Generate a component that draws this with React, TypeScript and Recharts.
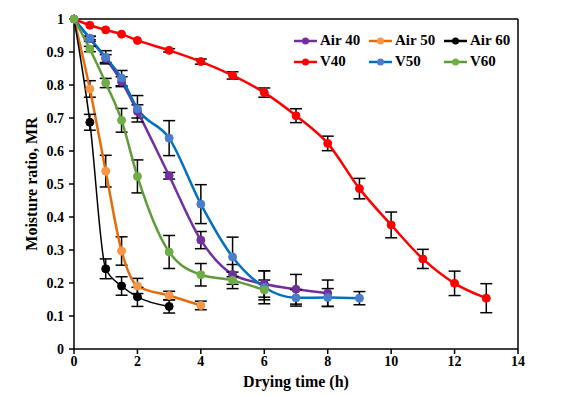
import { LineChart, Line, XAxis, YAxis, ErrorBar, ReferenceLine } from 'recharts';

// Drying curves: time (h), moisture ratio, error (+/-)
const air40Time = [0, 0.5, 1, 1.5, 2, 3, 4, 5, 6, 7, 8];
const air40MR = [1, 0.94, 0.88, 0.81, 0.72, 0.525, 0.33, 0.226, 0.197, 0.181, 0.169];
const air40Err = [null, 0.008, 0.012, 0.015, 0.02, 0.01, 0.026, 0.03, 0.04, 0.045, 0.04];

const air50Time = [0, 0.5, 1, 1.5, 2, 3, 4];
const air50MR = [1, 0.788, 0.539, 0.297, 0.191, 0.162, 0.132];
const air50Err = [null, 0.025, 0.048, 0.043, 0.023, 0.013, 0.013];

const air60Time = [0, 0.5, 1, 1.5, 2, 3];
const air60MR = [1, 0.687, 0.243, 0.191, 0.158, 0.129];
const air60Err = [null, 0.024, 0.03, 0.028, 0.029, 0.02];

const v40Time = [0, 0.5, 1, 1.5, 2, 3, 4, 5, 6, 7, 8, 9, 10, 11, 12, 13];
const v40MR = [1, 0.981, 0.967, 0.954, 0.935, 0.905, 0.871, 0.829, 0.777, 0.707, 0.623, 0.486, 0.376, 0.273, 0.199, 0.154];
const v40Err = [null, null, null, null, null, 0.005, 0.008, 0.011, 0.014, 0.021, 0.022, 0.031, 0.039, 0.029, 0.037, 0.044];

const v50Time = [0, 0.5, 1, 1.5, 2, 3, 4, 5, 6, 7, 8, 9];
const v50MR = [1, 0.942, 0.884, 0.821, 0.728, 0.639, 0.439, 0.279, 0.187, 0.155, 0.156, 0.154];
const v50Err = [null, 0.005, 0.02, 0.023, 0.04, 0.053, 0.059, 0.06, 0.05, 0.025, 0.027, 0.02];

const v60Time = [0, 0.5, 1, 1.5, 2, 3, 4, 5, 6];
const v60MR = [1, 0.909, 0.806, 0.693, 0.523, 0.294, 0.225, 0.208, 0.179];
const v60Err = [null, 0.008, 0.014, 0.036, 0.05, 0.05, 0.034, 0.025, 0.03];

const xTicks = [0, 2, 4, 6, 8, 10, 12, 14];
const yTicks = [0, 0.1, 0.2, 0.3, 0.4, 0.5, 0.6, 0.7, 0.8, 0.9, 1];

const toPoints = (time: number[], mr: number[], err: (number | null)[]) =>
  time.map((t, i) => ({ t, mr: mr[i], err: err[i] }));

const series = [
  { name: 'Air 40', data: toPoints(air40Time, air40MR, air40Err), line: '#7030A0', dot: '#7030A0', width: 2.5 },
  { name: 'Air 50', data: toPoints(air50Time, air50MR, air50Err), line: '#E46C0A', dot: '#F79646', width: 2.5 },
  { name: 'Air 60', data: toPoints(air60Time, air60MR, air60Err), line: '#000000', dot: '#000000', width: 1.5 },
  { name: 'V40', data: toPoints(v40Time, v40MR, v40Err), line: '#FF0000', dot: '#FF0000', width: 2.5 },
  { name: 'V50', data: toPoints(v50Time, v50MR, v50Err), line: '#0070C0', dot: '#4A7DCB', width: 2.5 },
  { name: 'V60', data: toPoints(v60Time, v60MR, v60Err), line: '#5E9C3A', dot: '#70AD47', width: 2.5 },
];

const font = '"Liberation Serif", "Times New Roman", serif';
const textStyle = { fontFamily: font, fontWeight: 'bold' as const, fill: '#000' };
const tickStyle = { fill: '#000', fontSize: 14, fontWeight: 'bold', fontFamily: font, style: textStyle };

function LegendBox() {
  return (
    <div
      style={{
        position: 'absolute',
        left: 294,
        top: 30,
        display: 'grid',
        gridTemplateColumns: '75px 75px 75px',
        gridAutoRows: '21px',
        fontFamily: font,
        fontWeight: 'bold',
        fontSize: 15,
        color: '#000',
      }}
    >
      {series.map(s => (
        <div key={s.name} style={{ display: 'flex', alignItems: 'center', whiteSpace: 'nowrap' }}>
          <svg width={24} height={10} style={{ marginRight: 2 }}>
            <line x1={0} y1={5} x2={23} y2={5} stroke={s.line} strokeWidth={2.5} />
            <circle cx={11.5} cy={5} r={3.5} fill={s.dot} />
          </svg>
          <span>{s.name}</span>
        </div>
      ))}
    </div>
  );
}

export default function App() {
  return (
    <div style={{ position: 'absolute', left: 0, top: 0, width: 564, height: 395, background: '#fff' }}>
      <LineChart width={564} height={395} margin={{ top: 19, right: 46, left: 0, bottom: 0 }}>
        <XAxis
          dataKey="t"
          type="number"
          domain={[0, 14]}
          ticks={xTicks}
          height={46}
          axisLine={{ stroke: '#000', strokeWidth: 1.5 }}
          tickLine={{ stroke: '#000', strokeWidth: 1.5 }}
          tickSize={5}
          tick={tickStyle}
          label={{
            value: 'Drying time (h)',
            position: 'insideBottom',
            offset: 8,
            style: { ...textStyle, fontSize: 16 },
          }}
        />
        <YAxis
          type="number"
          domain={[0, 1]}
          ticks={yTicks}
          width={74}
          axisLine={{ stroke: '#000', strokeWidth: 1.5 }}
          tickLine={{ stroke: '#000', strokeWidth: 1.5 }}
          tickSize={5}
          tickMargin={5}
          tick={tickStyle}
          tickFormatter={(v: number) => String(Number(v.toFixed(1)))}
          label={{
            value: 'Moisture ratio, MR',
            angle: -90,
            position: 'insideLeft',
            offset: 31,
            style: { ...textStyle, fontSize: 16, textAnchor: 'middle' },
          }}
        />
        <ReferenceLine y={1} stroke="#000" strokeWidth={1.5} />
        <ReferenceLine x={14} stroke="#000" strokeWidth={1.5} />
        {series.map(s => (
          <Line
            key={s.name}
            data={s.data}
            dataKey="mr"
            name={s.name}
            type="monotone"
            stroke={s.line}
            strokeWidth={s.width}
            dot={{ r: 4, fill: s.dot, stroke: s.dot, strokeWidth: 1 }}
            isAnimationActive={false}
          >
            <ErrorBar dataKey="err" direction="y" width={6} stroke="#000" strokeWidth={1.5} />
          </Line>
        ))}
      </LineChart>
      <LegendBox />
    </div>
  );
}
